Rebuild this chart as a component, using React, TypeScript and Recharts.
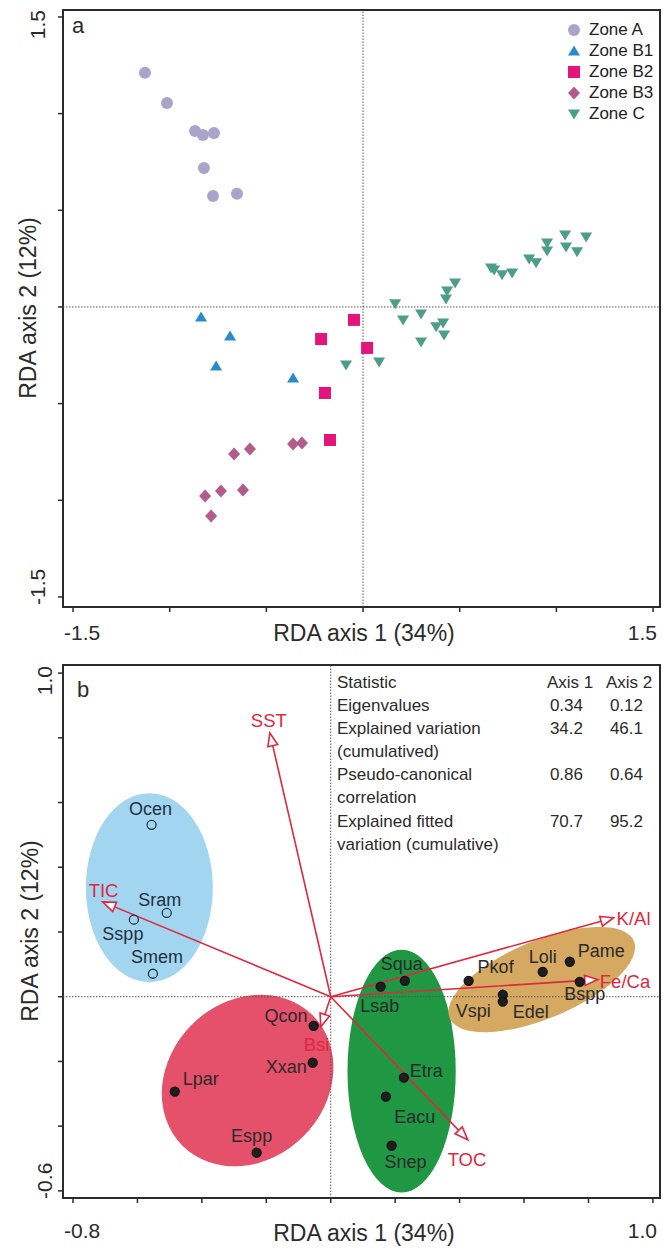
import React from 'react'
import { Legend, ReferenceArea, ReferenceLine, Scatter, ScatterChart, XAxis, YAxis } from 'recharts'

const FONT = '"Liberation Sans", Arial, Helvetica, sans-serif'
const INK = '#2b2b2b'
const RED = '#e0283f'

// ---- panel a: sample scores per zone (RDA axis 1, axis 2)
const zoneA = [
  { x: -1.128, y: 1.211 }, { x: -1.014, y: 1.055 }, { x: -0.869, y: 0.91 }, { x: -0.828, y: 0.89 },
  { x: -0.771, y: 0.9 }, { x: -0.823, y: 0.719 }, { x: -0.776, y: 0.574 }, { x: -0.652, y: 0.585 },
]
const zoneB1 = [
  { x: -0.838, y: -0.052 }, { x: -0.688, y: -0.15 }, { x: -0.76, y: -0.305 }, { x: -0.362, y: -0.367 },
]
const zoneB2 = [
  { x: -0.217, y: -0.166 }, { x: -0.197, y: -0.445 }, { x: -0.171, y: -0.688 }, { x: -0.047, y: -0.067 },
  { x: 0.021, y: -0.212 },
]
const zoneB3 = [
  { x: -0.667, y: -0.76 }, { x: -0.585, y: -0.735 }, { x: -0.362, y: -0.709 }, { x: -0.316, y: -0.704 },
  { x: -0.817, y: -0.978 }, { x: -0.735, y: -0.952 }, { x: -0.621, y: -0.947 }, { x: -0.786, y: -1.081 },
]
const zoneC = [
  { x: 0.166, y: 0.016 }, { x: 0.207, y: -0.067 }, { x: 0.3, y: -0.036 }, { x: 0.378, y: -0.103 },
  { x: 0.414, y: -0.083 }, { x: 0.419, y: -0.145 }, { x: 0.3, y: -0.181 }, { x: -0.088, y: -0.3 },
  { x: 0.083, y: -0.285 }, { x: 0.429, y: 0.041 }, { x: 0.435, y: 0.083 }, { x: 0.476, y: 0.124 },
  { x: 0.662, y: 0.202 }, { x: 0.678, y: 0.191 }, { x: 0.719, y: 0.166 }, { x: 0.771, y: 0.176 },
  { x: 0.859, y: 0.248 }, { x: 0.895, y: 0.228 }, { x: 0.952, y: 0.29 }, { x: 0.952, y: 0.331 },
  { x: 1.045, y: 0.372 }, { x: 1.05, y: 0.31 }, { x: 1.107, y: 0.285 }, { x: 1.154, y: 0.362 },
]
const ticksA = [-1.5, -1, -0.5, 0, 0.5, 1, 1.5]
const domainA: [number, number] = [-1.552, 1.536]

// ---- panel b: species, environmental vectors, group ellipses
const openSpecies = [
  { name: 'Ocen', x: -0.556, y: 0.531 }, { name: 'Sram', x: -0.509, y: 0.259 },
  { name: 'Sspp', x: -0.611, y: 0.238 }, { name: 'Smem', x: -0.552, y: 0.071 },
]
const filledSpecies = [
  { name: 'Qcon', x: -0.053, y: -0.09 }, { name: 'Xxan', x: -0.056, y: -0.204 },
  { name: 'Lpar', x: -0.484, y: -0.293 }, { name: 'Espp', x: -0.23, y: -0.482 },
  { name: 'Squa', x: 0.23, y: 0.049 }, { name: 'Lsab', x: 0.155, y: 0.031 },
  { name: 'Etra', x: 0.227, y: -0.25 }, { name: 'Eacu', x: 0.171, y: -0.309 },
  { name: 'Snep', x: 0.189, y: -0.46 }, { name: 'Pkof', x: 0.428, y: 0.049 },
  { name: 'Loli', x: 0.658, y: 0.077 }, { name: 'Pame', x: 0.742, y: 0.108 },
  { name: 'Bspp', x: 0.773, y: 0.046 }, { name: 'Vspi', x: 0.534, y: 0.006 },
  { name: 'Edel', x: 0.534, y: -0.015 },
]
const envNames = ['SST', 'TIC', 'K/Al', 'Fe/Ca', 'TOC', 'Bsi']
const envAxis1 = [-0.189, -0.708, 0.878, 0.829, 0.425, -0.031]
const envAxis2 = [0.815, 0.293, 0.244, 0.053, -0.442, -0.093]
const groupEllipses = [
  { id: 'blue', cx: -0.563, cy: 0.337, rx: 0.197, ry: 0.292, tilt: 0 },
  { id: 'red', cx: -0.258, cy: -0.259, rx: 0.286, ry: 0.244, tilt: 45 },
  { id: 'green', cx: 0.22, cy: -0.23, rx: 0.168, ry: 0.375, tilt: 0 },
  { id: 'tan', cx: 0.655, cy: 0.053, rx: 0.31, ry: 0.12, tilt: 22.7 },
]
const ticksBx = [-0.8, -0.6, -0.4, -0.2, 0, 0.2, 0.4, 0.6, 0.8, 1.0]
const ticksBy = [-0.6, -0.4, -0.2, 0, 0.2, 0.4, 0.6, 0.8, 1.0]
const domainBx: [number, number] = [-0.831, 1.022]
const domainBy: [number, number] = [-0.622, 1.025]

// summary table
const statHeader = ['Statistic', 'Axis 1', 'Axis 2']
const statRows = [
  ['Eigenvalues'],
  ['Explained variation', '(cumulatived)'],
  ['Pseudo-canonical', 'correlation'],
  ['Explained fitted', 'variation (cumulative)'],
]
const axis1Stats = ['0.34', '34.2', '0.86', '70.7']
const axis2Stats = ['0.12', '46.1', '0.64', '95.2']

// ---- styling
const zoneStyle: Record<string, { color: string; kind: string }> = {
  'Zone A': { color: '#aaa4cc', kind: 'circle' },
  'Zone B1': { color: '#2a8bc9', kind: 'up' },
  'Zone B2': { color: '#e4157a', kind: 'square' },
  'Zone B3': { color: '#b25b8c', kind: 'diamond' },
  'Zone C': { color: '#4d9e89', kind: 'down' },
}
const ellipseFill: Record<string, string> = {
  blue: '#a2d5f0', red: '#e5506b', green: '#1f9743', tan: '#d5a962',
}
// label offsets in px from the point: dx, dy, anchor
const speciesLabel: Record<string, [number, number, string]> = {
  Ocen: [-1, -10, 'middle'], Sram: [-7, -7, 'middle'], Sspp: [-11, 20, 'middle'], Smem: [4, -11, 'middle'],
  Qcon: [-6, -4, 'end'], Xxan: [-6, 10, 'end'], Lpar: [8, -7, 'start'], Espp: [-5, -11, 'middle'],
  Squa: [-3, -11, 'middle'], Lsab: [-1, 25, 'middle'], Etra: [6, -1, 'start'], Eacu: [29, 26, 'middle'],
  Snep: [14, 22, 'middle'], Pkof: [9, -8, 'start'], Loli: [0, -9, 'middle'], Pame: [8, -5, 'start'],
  Bspp: [5, 18, 'middle'], Vspi: [-12, 22, 'end'], Edel: [10, 16, 'start'],
}
const envLabel: Record<string, [number, number, string]> = {
  SST: [-1, -6, 'middle'], TIC: [-14, -5, 'start'], 'K/Al': [3, 7, 'start'],
  'Fe/Ca': [2, 8, 'start'], TOC: [-20, 26, 'start'], Bsi: [-17, 24, 'start'],
}

function ZoneMarker({ kind, cx, cy, color }: { kind: string; cx: number; cy: number; color: string }) {
  if (kind === 'circle') return <circle cx={cx} cy={cy} r={6} fill={color} />
  if (kind === 'square') return <rect x={cx - 6} y={cy - 6} width={12} height={12} fill={color} />
  if (kind === 'diamond')
    return <polygon points={`${cx},${cy - 6.5} ${cx + 6},${cy} ${cx},${cy + 6.5} ${cx - 6},${cy}`} fill={color} />
  if (kind === 'up')
    return <polygon points={`${cx},${cy - 5.5} ${cx + 6},${cy + 4.5} ${cx - 6},${cy + 4.5}`} fill={color} />
  return <polygon points={`${cx - 6},${cy - 4.5} ${cx + 6},${cy - 4.5} ${cx},${cy + 5.5}`} fill={color} />
}

const zoneShape = (name: string) => (p: any) => (
  <ZoneMarker kind={zoneStyle[name].kind} cx={p.cx} cy={p.cy} color={zoneStyle[name].color} />
)

function ZoneLegend({ payload }: any) {
  return (
    <div style={{ fontFamily: FONT, fontSize: 17, color: '#222' }}>
      {(payload || []).map((entry: any) => {
        const st = zoneStyle[entry.value]
        return (
          <div key={entry.value} style={{ display: 'flex', alignItems: 'center', height: 21 }}>
            <svg width={16} height={16}>
              <ZoneMarker kind={st.kind} cx={8} cy={8} color={st.color} />
            </svg>
            <span style={{ marginLeft: 7 }}>{entry.value}</span>
          </div>
        )
      })}
    </div>
  )
}

// end-only tick labels, baseline given in chart coordinates
const xTick = (ticks: number[], baseY: number) => (p: any) => {
  const v = p.payload.value
  const first = v === ticks[0]
  const last = v === ticks[ticks.length - 1]
  if (!first && !last) return <g />
  return (
    <text x={first ? p.x - 9 : p.x + 4} y={baseY} textAnchor={first ? 'start' : 'end'}
      fontFamily={FONT} fontSize={21} fill={INK}>{v.toFixed(1)}</text>
  )
}
const yTick = (ticks: number[], baseX: number) => (p: any) => {
  const v = p.payload.value
  const first = v === ticks[0]
  const last = v === ticks[ticks.length - 1]
  if (!first && !last) return <g />
  const ty = first ? p.y + 8 : p.y - 7
  return (
    <text x={baseX} y={ty} transform={`rotate(-90 ${baseX} ${ty})`} textAnchor={first ? 'start' : 'end'}
      fontFamily={FONT} fontSize={21} fill={INK}>{v.toFixed(1)}</text>
  )
}

const ellipseShape = (id: string, tilt: number) => (p: any) => {
  const cx = p.x + p.width / 2
  const cy = p.y + p.height / 2
  return (
    <ellipse cx={cx} cy={cy} rx={Math.abs(p.width) / 2} ry={Math.abs(p.height) / 2}
      transform={`rotate(${-tilt} ${cx} ${cy})`} fill={ellipseFill[id]} stroke="none" />
  )
}

const arrowShape = (name: string) => (p: any) => {
  const { x1, y1, x2, y2 } = p
  const len = Math.hypot(x2 - x1, y2 - y1) || 1
  const ux = (x2 - x1) / len
  const uy = (y2 - y1) / len
  const head = 13
  const half = 5
  const bx = x2 - ux * head
  const by = y2 - uy * head
  const [lx, ly, anchor] = envLabel[name]
  return (
    <g>
      <line x1={x1} y1={y1} x2={bx} y2={by} stroke={RED} strokeWidth={1.6} />
      <polygon points={`${x2},${y2} ${bx - uy * half},${by + ux * half} ${bx + uy * half},${by - ux * half}`}
        fill="#fff" stroke={RED} strokeWidth={1.6} />
      <text x={x2 + lx} y={y2 + ly} textAnchor={anchor as any} fontFamily={FONT} fontSize={18.5} fill={RED}>{name}</text>
    </g>
  )
}

const speciesShape = (open: boolean) => (p: any) => {
  const [dx, dy, anchor] = speciesLabel[p.payload.name]
  return (
    <g>
      <circle cx={p.cx} cy={p.cy} r={4.5} fill={open ? 'none' : '#1e1e1e'} stroke={open ? '#23354a' : '#111'} strokeWidth={1.3} />
      <text x={p.cx + dx} y={p.cy + dy} textAnchor={anchor as any} fontFamily={FONT} fontSize={18}
        fill={open ? '#22303f' : '#2a2a2a'}>{p.payload.name}</text>
    </g>
  )
}

const axisCommon = {
  type: 'number' as const,
  allowDataOverflow: true,
  axisLine: false,
  tickSize: 5,
  tickMargin: 0,
  tickLine: { stroke: INK, strokeWidth: 1.5 },
}

function PanelA() {
  return (
    <ScatterChart width={663} height={650} margin={{ top: 10, right: 3, bottom: 0, left: 0 }}>
      <XAxis {...axisCommon} dataKey="x" domain={domainA} ticks={ticksA} height={43} tick={xTick(ticksA, 640)} />
      <YAxis {...axisCommon} dataKey="y" domain={domainA} ticks={ticksA} width={63} tick={yTick(ticksA, 45)} />
      <ReferenceLine x={0} stroke="#555" strokeDasharray="1.5 1.5" />
      <ReferenceLine y={0} stroke="#555" strokeDasharray="1.5 1.5" />
      <Scatter name="Zone A" data={zoneA} fill={zoneStyle['Zone A'].color} shape={zoneShape('Zone A')} isAnimationActive={false} />
      <Scatter name="Zone B1" data={zoneB1} fill={zoneStyle['Zone B1'].color} shape={zoneShape('Zone B1')} isAnimationActive={false} />
      <Scatter name="Zone B2" data={zoneB2} fill={zoneStyle['Zone B2'].color} shape={zoneShape('Zone B2')} isAnimationActive={false} />
      <Scatter name="Zone B3" data={zoneB3} fill={zoneStyle['Zone B3'].color} shape={zoneShape('Zone B3')} isAnimationActive={false} />
      <Scatter name="Zone C" data={zoneC} fill={zoneStyle['Zone C'].color} shape={zoneShape('Zone C')} isAnimationActive={false} />
      <ReferenceArea x1={domainA[0]} x2={domainA[1]} y1={domainA[0]} y2={domainA[1]} fill="none" fillOpacity={0} stroke={INK} strokeWidth={2} />
      <Legend layout="vertical" align="center" verticalAlign="middle" wrapperStyle={{ top: 19, left: 566, width: 95 }} content={ZoneLegend} />
    </ScatterChart>
  )
}

function PanelB() {
  return (
    <ScatterChart width={663} height={599} margin={{ top: 15, right: 3, bottom: 0, left: 0 }}>
      <XAxis {...axisCommon} dataKey="x" domain={domainBx} ticks={ticksBx} height={51} tick={xTick(ticksBx, 588)} />
      <YAxis {...axisCommon} dataKey="y" domain={domainBy} ticks={ticksBy} width={63} tick={yTick(ticksBy, 52)} />
      {groupEllipses.map((e) => (
        <ReferenceArea key={e.id} x1={e.cx - e.rx} x2={e.cx + e.rx} y1={e.cy - e.ry} y2={e.cy + e.ry}
          shape={ellipseShape(e.id, e.tilt)} />
      ))}
      <ReferenceLine x={0} stroke="#555" strokeDasharray="1.5 1.5" />
      <ReferenceLine y={0} stroke="#555" strokeDasharray="1.5 1.5" />
      {envNames.map((n, i) => (
        <ReferenceLine key={n} segment={[{ x: 0, y: 0 }, { x: envAxis1[i], y: envAxis2[i] }]} shape={arrowShape(n)} />
      ))}
      <Scatter name="open" data={openSpecies} shape={speciesShape(true)} isAnimationActive={false} />
      <Scatter name="filled" data={filledSpecies} shape={speciesShape(false)} isAnimationActive={false} />
      <ReferenceArea x1={domainBx[0]} x2={domainBx[1]} y1={domainBy[0]} y2={domainBy[1]} fill="none" fillOpacity={0} stroke={INK} strokeWidth={2} />
    </ScatterChart>
  )
}

export default function App() {
  const lineY = [711, 734, 780, 827]
  return (
    <div style={{ position: 'relative', width: 663, height: 1249, background: '#fff', fontFamily: FONT }}>
      <style>{'body{margin:0}'}</style>
      <div style={{ position: 'absolute', left: 0, top: 0 }}><PanelA /></div>
      <div style={{ position: 'absolute', left: 0, top: 650 }}><PanelB /></div>
      <svg width={663} height={1249} style={{ position: 'absolute', left: 0, top: 0, pointerEvents: 'none' }}
        fontFamily={FONT} fill={INK}>
        <text x={72} y={33} fontSize={22}>a</text>
        <text x={77} y={697} fontSize={22}>b</text>
        <text x={364} y={641} fontSize={23} textAnchor="middle">RDA axis 1 (34%)</text>
        <text x={36} y={308} fontSize={23} textAnchor="middle" transform="rotate(-90 36 308)">RDA axis 2 (12%)</text>
        <text x={364} y={1241} fontSize={23} textAnchor="middle">RDA axis 1 (34%)</text>
        <text x={38} y={931} fontSize={23} textAnchor="middle" transform="rotate(-90 38 931)">RDA axis 2 (12%)</text>
        <g fontSize={17}>
          <text x={337} y={688}>{statHeader[0]}</text>
          <text x={547} y={688}>{statHeader[1]}</text>
          <text x={606} y={688}>{statHeader[2]}</text>
          {statRows.map((row, i) => (
            <g key={i}>
              {row.map((line, j) => (
                <text key={j} x={337} y={lineY[i] + j * 23}>{line}</text>
              ))}
              <text x={583} y={lineY[i]} textAnchor="end">{axis1Stats[i]}</text>
              <text x={643} y={lineY[i]} textAnchor="end">{axis2Stats[i]}</text>
            </g>
          ))}
        </g>
      </svg>
    </div>
  )
}
